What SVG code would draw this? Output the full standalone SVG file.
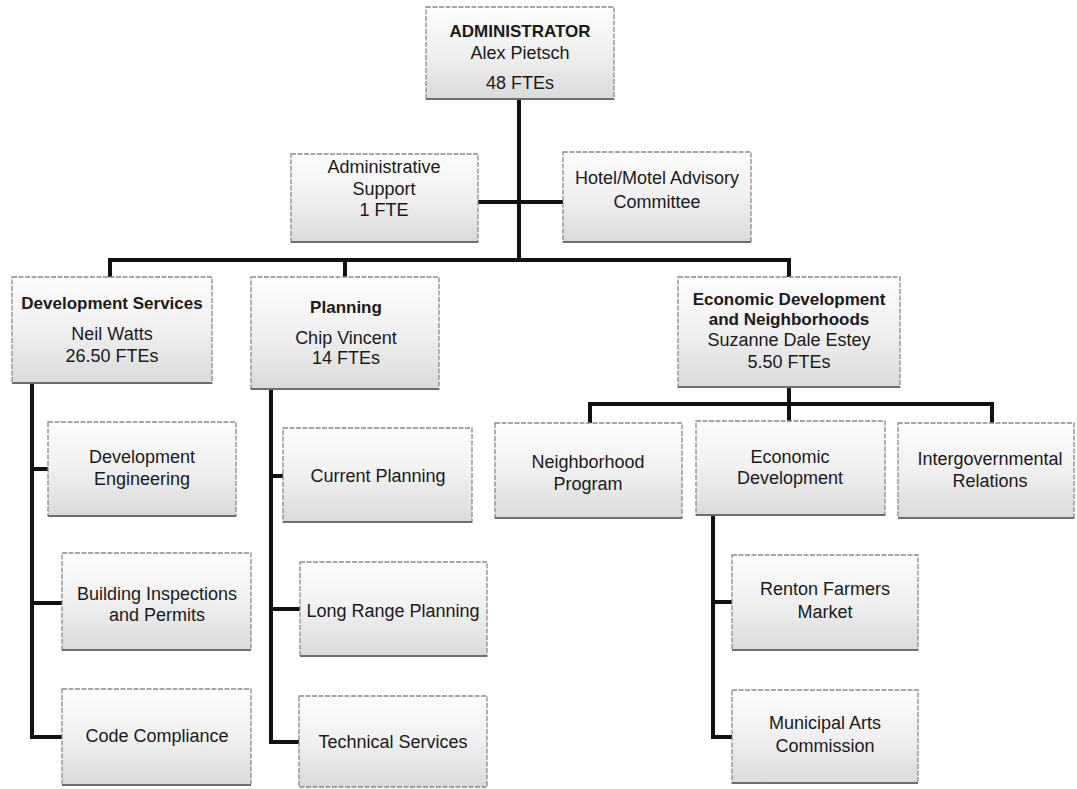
<svg xmlns="http://www.w3.org/2000/svg" width="1077" height="789" viewBox="0 0 1077 789">
  <defs>
    <linearGradient id="boxFill" x1="0" y1="0" x2="0" y2="1">
      <stop offset="0" stop-color="#fcfcfc"/>
      <stop offset="0.5" stop-color="#f0f0f0"/>
      <stop offset="1" stop-color="#dadada"/>
    </linearGradient>
  </defs>
  <style>
    .box { fill: url(#boxFill); stroke: #8a8a8a; stroke-width: 1.3; stroke-dasharray: 5 1.5; }
    .edge { fill: none; stroke: #6e6e6e; stroke-width: 2; }
    .t { font-family: "Liberation Sans", Arial, sans-serif; font-size: 18px; fill: #1a1a1a; text-anchor: middle; }
    .b { font-weight: bold; font-size: 17px; }
    .conn { fill: none; stroke: #111; stroke-width: 4; stroke-linejoin: miter; stroke-linecap: square; }
  </style>
  <rect width="1077" height="789" fill="#ffffff"/>

  <!-- reporting lines -->
  <g id="connectors">
    <path class="conn" d="M519 99 V260"/>
    <path class="conn" d="M478 202 H563"/>
    <path class="conn" d="M110 277 V260 H789 V277"/>
    <path class="conn" d="M345 260 V277"/>
    <!-- Development Services branch -->
    <path class="conn" d="M32 383 V737 H62"/>
    <path class="conn" d="M32 469 H48"/>
    <path class="conn" d="M32 603 H62"/>
    <!-- Planning branch -->
    <path class="conn" d="M271 389 V742 H299"/>
    <path class="conn" d="M271 476 H283"/>
    <path class="conn" d="M271 609 H300"/>
    <!-- Economic Development and Neighborhoods branch -->
    <path class="conn" d="M789 387 V421"/>
    <path class="conn" d="M590 423 V404 H992 V423"/>
    <path class="conn" d="M713 515 V737 H732"/>
    <path class="conn" d="M713 602 H732"/>
  </g>

  <g id="administrator">
    <rect class="box" x="426" y="7" width="188" height="92"/>
    <path class="edge" d="M426 99 H614"/>
    <text class="t b" x="520" y="37">ADMINISTRATOR</text>
    <text class="t" x="520" y="59">Alex Pietsch</text>
    <text class="t" x="520" y="89">48 FTEs</text>
  </g>

  <g id="admin-support">
    <rect class="box" x="291" y="154" width="187" height="88"/>
    <path class="edge" d="M291 242 H478"/>
    <text class="t" x="384" y="173">Administrative</text>
    <text class="t" x="384" y="195">Support</text>
    <text class="t" x="384" y="216">1 FTE</text>
  </g>

  <g id="hotel-motel">
    <rect class="box" x="563" y="152" width="188" height="90"/>
    <path class="edge" d="M563 242 H751"/>
    <text class="t" x="657" y="184">Hotel/Motel Advisory</text>
    <text class="t" x="657" y="208">Committee</text>
  </g>

  <g id="development-services">
    <rect class="box" x="12" y="277" width="200" height="106"/>
    <path class="edge" d="M12 383 H212"/>
    <text class="t b" x="112" y="309">Development Services</text>
    <text class="t" x="112" y="340">Neil Watts</text>
    <text class="t" x="112" y="362">26.50 FTEs</text>
  </g>

  <g id="planning">
    <rect class="box" x="251" y="277" width="188" height="112"/>
    <path class="edge" d="M251 389 H439"/>
    <text class="t b" x="346" y="313">Planning</text>
    <text class="t" x="346" y="344">Chip Vincent</text>
    <text class="t" x="346" y="364">14 FTEs</text>
  </g>

  <g id="econ-dev-neighborhoods">
    <rect class="box" x="678" y="277" width="222" height="110"/>
    <path class="edge" d="M678 387 H900"/>
    <text class="t b" x="789" y="305">Economic Development</text>
    <text class="t b" x="789" y="325">and Neighborhoods</text>
    <text class="t" x="789" y="346">Suzanne Dale Estey</text>
    <text class="t" x="789" y="368">5.50 FTEs</text>
  </g>

  <g id="development-engineering">
    <rect class="box" x="48" y="422" width="188" height="94"/>
    <path class="edge" d="M48 516 H236"/>
    <text class="t" x="142" y="463">Development</text>
    <text class="t" x="142" y="485">Engineering</text>
  </g>

  <g id="building-inspections">
    <rect class="box" x="62" y="553" width="189" height="97"/>
    <path class="edge" d="M62 650 H251"/>
    <text class="t" x="157" y="600">Building Inspections</text>
    <text class="t" x="157" y="621">and Permits</text>
  </g>

  <g id="code-compliance">
    <rect class="box" x="62" y="689" width="189" height="96"/>
    <path class="edge" d="M62 785 H251"/>
    <text class="t" x="157" y="742">Code Compliance</text>
  </g>

  <g id="current-planning">
    <rect class="box" x="283" y="428" width="189" height="94"/>
    <path class="edge" d="M283 522 H472"/>
    <text class="t" x="378" y="482">Current Planning</text>
  </g>

  <g id="long-range-planning">
    <rect class="box" x="300" y="562" width="187" height="94"/>
    <path class="edge" d="M300 656 H487"/>
    <text class="t" x="393" y="617">Long Range Planning</text>
  </g>

  <g id="technical-services">
    <rect class="box" x="299" y="696" width="188" height="91"/>
    <text class="t" x="393" y="748">Technical Services</text>
  </g>

  <g id="neighborhood-program">
    <rect class="box" x="495" y="423" width="187" height="95"/>
    <path class="edge" d="M495 518 H682"/>
    <text class="t" x="588" y="468">Neighborhood</text>
    <text class="t" x="588" y="490">Program</text>
  </g>

  <g id="economic-development">
    <rect class="box" x="696" y="421" width="189" height="94"/>
    <path class="edge" d="M696 515 H885"/>
    <text class="t" x="790" y="463">Economic</text>
    <text class="t" x="790" y="484">Development</text>
  </g>

  <g id="intergovernmental">
    <rect class="box" x="898" y="423" width="176" height="95"/>
    <path class="edge" d="M898 518 H1074"/>
    <text class="t" x="990" y="465">Intergovernmental</text>
    <text class="t" x="990" y="487">Relations</text>
  </g>

  <g id="farmers-market">
    <rect class="box" x="732" y="555" width="186" height="95"/>
    <path class="edge" d="M732 650 H918"/>
    <text class="t" x="825" y="595">Renton Farmers</text>
    <text class="t" x="825" y="618">Market</text>
  </g>

  <g id="municipal-arts">
    <rect class="box" x="732" y="690" width="186" height="93"/>
    <path class="edge" d="M732 783 H918"/>
    <text class="t" x="825" y="729">Municipal Arts</text>
    <text class="t" x="825" y="752">Commission</text>
  </g>
</svg>
